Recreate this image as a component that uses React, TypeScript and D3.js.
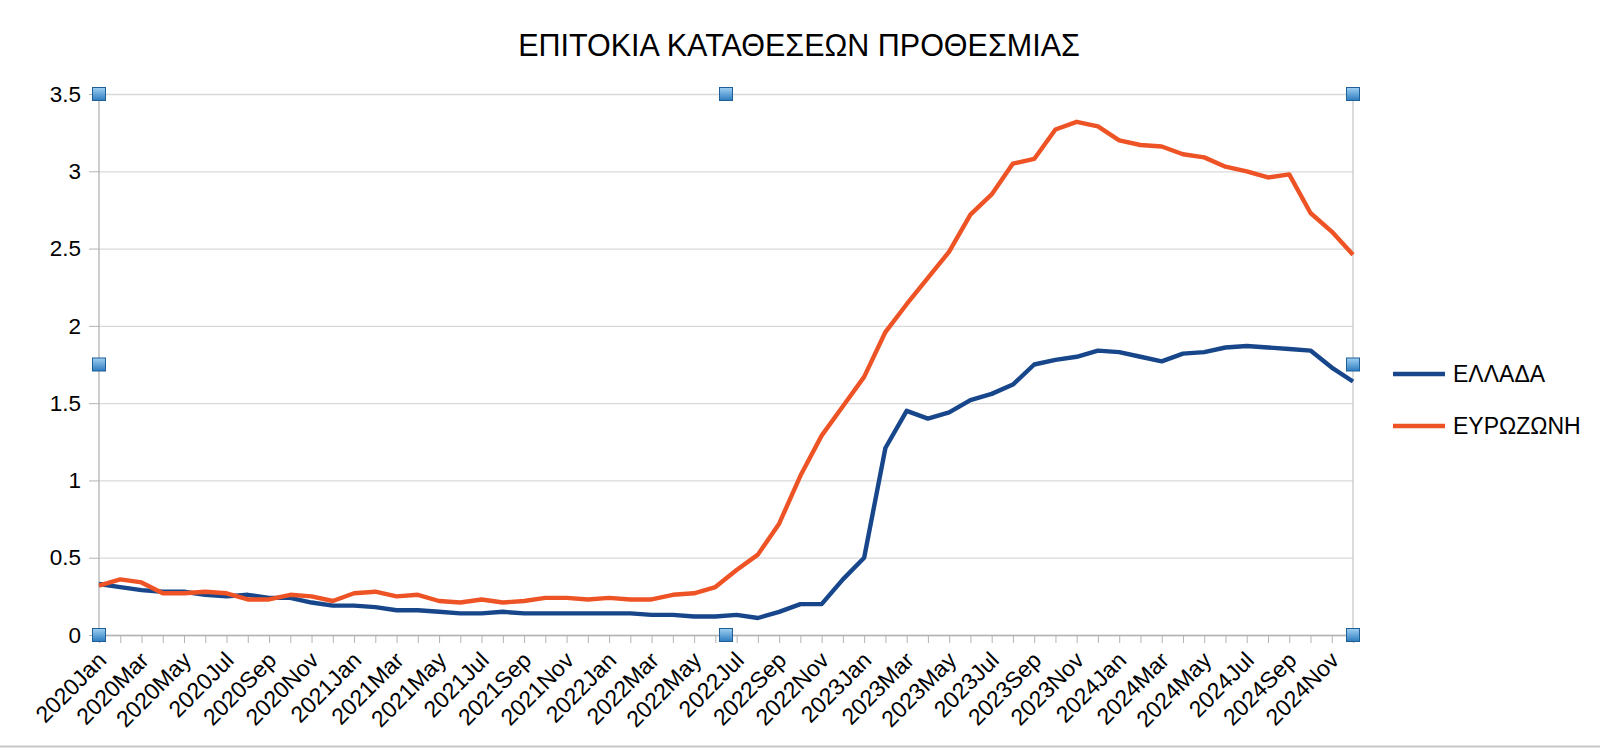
import React, { useRef, useEffect } from 'react';
import * as d3 from 'd3';

const years = ['2020', '2021', '2022', '2023', '2024'];
const monthNames = ['Jan', 'Feb', 'Mar', 'Apr', 'May', 'Jun', 'Jul', 'Aug', 'Sep', 'Oct', 'Nov', 'Dec'];
const categories = years.flatMap(y => monthNames.map(m => y + m));

const greece = [
  0.33, 0.31, 0.29, 0.28, 0.28, 0.26, 0.25, 0.26, 0.24, 0.24,
  0.21, 0.19, 0.19, 0.18, 0.16, 0.16, 0.15, 0.14, 0.14, 0.15,
  0.14, 0.14, 0.14, 0.14, 0.14, 0.14, 0.13, 0.13, 0.12, 0.12,
  0.13, 0.11, 0.15, 0.20, 0.20, 0.36, 0.50, 1.21, 1.45, 1.40,
  1.44, 1.52, 1.56, 1.62, 1.75, 1.78, 1.80, 1.84, 1.83, 1.80,
  1.77, 1.82, 1.83, 1.86, 1.87, 1.86, 1.85, 1.84, 1.73, 1.64,
];

const eurozone = [
  0.32, 0.36, 0.34, 0.27, 0.27, 0.28, 0.27, 0.23, 0.23, 0.26,
  0.25, 0.22, 0.27, 0.28, 0.25, 0.26, 0.22, 0.21, 0.23, 0.21,
  0.22, 0.24, 0.24, 0.23, 0.24, 0.23, 0.23, 0.26, 0.27, 0.31,
  0.42, 0.52, 0.72, 1.03, 1.29, 1.48, 1.67, 1.96, 2.14, 2.31,
  2.48, 2.72, 2.85, 3.05, 3.08, 3.27, 3.32, 3.29, 3.20, 3.17,
  3.16, 3.11, 3.09, 3.03, 3.00, 2.96, 2.98, 2.73, 2.61, 2.46,
];

const yTicks = [0, 0.5, 1, 1.5, 2, 2.5, 3, 3.5];
const seriesNames = ['ΕΛΛΑΔΑ', 'ΕΥΡΩΖΩΝΗ'];
const seriesColors = ['#17468a', '#ee5325'];
const title = 'ΕΠΙΤΟΚΙΑ ΚΑΤΑΘΕΣΕΩΝ ΠΡΟΘΕΣΜΙΑΣ';

const App = () => {
  const svgRef = useRef<SVGSVGElement>(null);

  useEffect(() => {
    const svg = d3.select(svgRef.current);
    svg.selectAll('*').remove();

    const width = 1600;
    const height = 748;
    const left = 99, right = 1353, top = 94, bottom = 635;
    const font = '"Liberation Sans", Arial, sans-serif';

    const x = d3.scalePoint<string>().domain(categories).range([left, right]);
    const y = d3.scaleLinear().domain([0, 3.5]).range([bottom, top]);

    svg.append('rect').attr('width', width).attr('height', height).attr('fill', '#fff');

    // title
    svg.append('text')
      .attr('x', 799)
      .attr('y', 56)
      .attr('text-anchor', 'middle')
      .attr('font-family', font)
      .attr('font-size', 30.5)
      .attr('fill', '#000')
      .text(title);

    // gridlines + y axis
    const yAxis = svg.append('g')
      .attr('transform', `translate(${left},0)`)
      .call(d3.axisLeft(y).tickValues(yTicks).tickSize(10).tickPadding(8).tickFormat(d => String(d)))
      .call(g => g.select('.domain').remove())
      .call(g => g.selectAll('.tick line').attr('stroke', '#b3b3b3'))
      .call(g => g.selectAll('.tick text')
        .attr('font-family', font)
        .attr('font-size', 22.5)
        .attr('fill', '#000'));
    yAxis.selectAll('.tick').append('line')
      .attr('x2', right - left)
      .attr('stroke', '#d9d9d9')
      .attr('stroke-width', 1.3);

    // plot frame lines
    svg.append('line')
      .attr('x1', left).attr('x2', left).attr('y1', top).attr('y2', bottom)
      .attr('stroke', '#b3b3b3').attr('stroke-width', 1.3);
    svg.append('line')
      .attr('x1', right).attr('x2', right).attr('y1', top).attr('y2', bottom)
      .attr('stroke', '#c8c8c8').attr('stroke-width', 1.3);

    // x axis
    svg.append('g')
      .attr('transform', `translate(0,${bottom})`)
      .call(d3.axisBottom(x).tickSize(8).tickFormat(() => ''))
      .call(g => g.select('.domain').attr('stroke', '#b3b3b3').attr('stroke-width', 1.3))
      .call(g => g.selectAll('.tick line').attr('stroke', '#b3b3b3'));

    svg.append('g')
      .selectAll('text')
      .data(categories.filter((_, i) => i % 2 === 0))
      .enter().append('text')
      .attr('transform', d => `translate(${(x(d) as number) - 3},${bottom + 15}) rotate(-45)`)
      .attr('text-anchor', 'end')
      .attr('dy', '0.72em')
      .attr('font-family', font)
      .attr('font-size', 23)
      .attr('fill', '#000')
      .text(d => d);

    // lines
    const line = d3.line<number>()
      .x((_, i) => x(categories[i]) as number)
      .y(d => y(d));

    [greece, eurozone].forEach((data, k) => {
      svg.append('path')
        .datum(data)
        .attr('fill', 'none')
        .attr('stroke', seriesColors[k])
        .attr('stroke-width', 4.4)
        .attr('stroke-linejoin', 'round')
        .attr('d', line);
    });

    // legend
    const legend = svg.append('g');
    seriesNames.forEach((name, k) => {
      const ly = 374 + k * 52;
      legend.append('line')
        .attr('x1', 1393).attr('x2', 1445)
        .attr('y1', ly).attr('y2', ly)
        .attr('stroke', seriesColors[k])
        .attr('stroke-width', 4.4);
      legend.append('text')
        .attr('x', 1453)
        .attr('y', ly + 8)
        .attr('font-family', font)
        .attr('font-size', 23)
        .attr('fill', '#000')
        .text(name);
    });

    // selection handles
    const defs = svg.append('defs');
    const grad = defs.append('linearGradient')
      .attr('id', 'handle-grad')
      .attr('x1', 0).attr('y1', 0).attr('x2', 0).attr('y2', 1);
    grad.append('stop').attr('offset', '0%').attr('stop-color', '#9fd0f2');
    grad.append('stop').attr('offset', '100%').attr('stop-color', '#2d7cc0');

    const midX = (left + right) / 2;
    const midY = (top + bottom) / 2;
    const handles = [
      [left, top], [midX, top], [right, top],
      [left, midY], [right, midY],
      [left, bottom], [midX, bottom], [right, bottom],
    ];
    svg.append('g')
      .selectAll('rect')
      .data(handles)
      .enter().append('rect')
      .attr('x', d => d[0] - 6.5)
      .attr('y', d => d[1] - 6.5)
      .attr('width', 13)
      .attr('height', 13)
      .attr('fill', 'url(#handle-grad)')
      .attr('stroke', '#1f5f98')
      .attr('stroke-width', 1);

    // bottom edge
    svg.append('line')
      .attr('x1', 0).attr('x2', width)
      .attr('y1', 746.5).attr('y2', 746.5)
      .attr('stroke', '#c8c8c8')
      .attr('stroke-width', 2);
  }, []);

  return (
    <div style={{ position: 'absolute', left: 0, top: 0 }}>
      <svg ref={svgRef} width={1600} height={748} style={{ display: 'block' }}></svg>
    </div>
  );
};

export default App;
